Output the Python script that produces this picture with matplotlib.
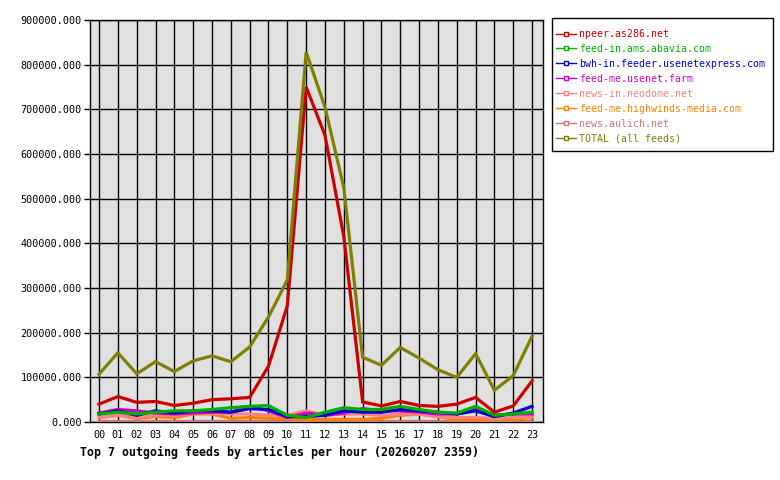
import matplotlib
matplotlib.use("Agg")
import matplotlib.pyplot as plt
from matplotlib.lines import Line2D
from matplotlib.patches import Rectangle

hours = ["%02d" % h for h in range(24)]

npeer = [40000, 57000, 44000, 46000, 37000, 42000, 50000, 52000, 55000, 125000, 260000, 750000,
         642000, 415000, 45000, 36000, 46000, 37000, 35000, 40000, 55000, 22000, 36000, 92000]
abavia = [18000, 22000, 18000, 22000, 25000, 25000, 28000, 32000, 35000, 37000, 15000, 10000,
          22000, 32000, 28000, 28000, 35000, 28000, 22000, 20000, 35000, 15000, 18000, 22000]
usenetexpress = [18000, 25000, 15000, 25000, 20000, 25000, 25000, 22000, 30000, 28000, 12000, 12000,
                 15000, 25000, 22000, 22000, 28000, 25000, 22000, 18000, 25000, 12000, 20000, 35000]
usenetfarm = [20000, 28000, 25000, 20000, 18000, 20000, 22000, 22000, 35000, 25000, 10000, 20000,
              15000, 20000, 30000, 25000, 25000, 22000, 18000, 18000, 28000, 15000, 18000, 18000]
neodome = [10000, 15000, 10000, 15000, 15000, 20000, 20000, 18000, 18000, 15000, 15000, 25000,
           15000, 18000, 18000, 15000, 18000, 18000, 12000, 10000, 10000, 8000, 10000, 12000]
highwinds = [10000, 15000, 8000, 12000, 10000, 18000, 18000, 8000, 10000, 8000, 8000, 5000,
             6000, 6000, 6000, 8000, 15000, 18000, 12000, 5000, 5000, 5000, 6000, 10000]
aulich = [3000] * 24
total = [107000, 155000, 108000, 135000, 113000, 137000, 148000, 135000, 168000, 235000, 318000, 828000,
         705000, 525000, 145000, 127000, 167000, 143000, 117000, 100000, 153000, 71000, 104000, 192000]

names = ["npeer.as286.net", "feed-in.ams.abavia.com", "bwh-in.feeder.usenetexpress.com",
         "feed-me.usenet.farm", "news-in.neodome.net", "feed-me.highwinds-media.com",
         "news.aulich.net", "TOTAL (all feeds)"]
colors = ["#cc0000", "#00b000", "#0000cc", "#cc00cc", "#ff8080", "#ff8000", "#c87878", "#808000"]
series = [npeer, abavia, usenetexpress, usenetfarm, neodome, highwinds, aulich, total]

plt.rcParams["font.family"] = "DejaVu Sans Mono"

fig = plt.figure(figsize=(7.8, 4.8), dpi=100)
ax = fig.add_axes([90 / 780, 58 / 480, 453 / 780, 402 / 480])
ax.set_facecolor("#e0e0e0")

x = list(range(24))
# small feeds first, npeer and total on top
order = [6, 5, 4, 3, 2, 1, 0, 7]
for i in order:
    ax.plot(x, series[i], color=colors[i], lw=2.3, solid_joinstyle="miter", zorder=3)

ax.set_xlim(-0.48, 23.58)
ax.set_ylim(0, 900000)
ax.set_xticks(x)
ax.set_xticklabels(hours, fontsize=7.3)
ax.set_yticks(range(0, 900001, 100000))
ax.set_yticklabels(["%d.000" % v for v in range(0, 900001, 100000)], fontsize=7.3)
ax.tick_params(axis="y", length=4, width=1, color="black", pad=2)
ax.tick_params(axis="x", length=0, pad=6)
ax.grid(True, color="black", lw=1)
ax.set_axisbelow(True)
for s in ax.spines.values():
    s.set_color("black")
    s.set_linewidth(1)

fig.text(80 / 780, 1 - 452 / 480, "Top 7 outgoing feeds by articles per hour (20260207 2359)",
         fontsize=8.4, fontweight="bold", va="center", ha="left")

# legend box drawn separately so its size matches
fig.patches.append(Rectangle((552 / 780, 1 - 151 / 480), 221 / 780, 133 / 480,
                             transform=fig.transFigure, fill=False, edgecolor="black", lw=1))
handles = [Line2D([0], [0], color=c, lw=1, marker="s", markersize=2.5,
                  markerfacecolor="white", markeredgecolor=c) for c in colors]
leg = fig.legend(handles, names, loc="upper left", bbox_to_anchor=(556 / 780, 1 - 29 / 480),
                 fontsize=7.1, frameon=False,
                 handlelength=2.0, handletextpad=0.35, labelspacing=0.5, borderpad=0,
                 borderaxespad=0)
for t, c in zip(leg.get_texts(), colors):
    t.set_color(c)

fig.savefig("out.png", dpi=100)
